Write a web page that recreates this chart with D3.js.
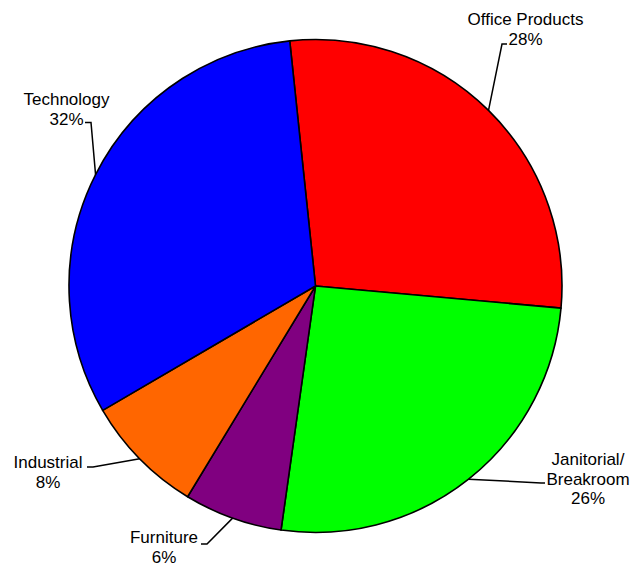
<!DOCTYPE html>
<html>
<head>
<meta charset="utf-8">
<script src="https://cdn.jsdelivr.net/npm/d3@7"></script>
<style>
  html, body { margin: 0; padding: 0; background: #fff; }
  svg { display: block; }
  text { font-family: "Liberation Sans", Arial, sans-serif; font-size: 17px; fill: #000; }
</style>
</head>
<body>
<svg id="chart" width="633" height="568"></svg>
<script>
// Data
const categories = ["Office Products", "Janitorial/Breakroom", "Furniture", "Industrial", "Technology"];
const values = [28.1, 25.8, 6.45, 7.9, 31.75];
const labelLines = [["Office Products", "28%"], ["Janitorial/", "Breakroom", "26%"], ["Furniture", "6%"], ["Industrial", "8%"], ["Technology", "32%"]];
const colors = ["#FF0000", "#00FF00", "#800080", "#FF6600", "#0000FF"];

// Layout (label placement)
const labelLayout = [
  { elbow: [502, 44], end: [507, 44], tx: 525.5, ty: 25, anchor: "middle" },
  { elbow: [541, 483], end: [545, 483], tx: 588, ty: 465, anchor: "middle" },
  { elbow: [207, 544], end: [201, 544], tx: 164, ty: 543, anchor: "middle" },
  { elbow: [93, 467], end: [87, 467], tx: 48, ty: 468, anchor: "middle" },
  { elbow: [91, 122.5], end: [85, 122.5], tx: 66.5, ty: 105, anchor: "middle" }
];

const cx = 315.5, cy = 286, r = 246.5;
const start = -6 * Math.PI / 180;

const svg = d3.select("#chart");
const g = svg.append("g").attr("transform", `translate(${cx},${cy})`);

const data = categories.map((c, i) => ({ category: c, value: values[i], i }));
const pie = d3.pie().value(d => d.value).sort(null).startAngle(start).endAngle(start + 2 * Math.PI);
const arcs = pie(data);
const arc = d3.arc().innerRadius(0).outerRadius(r);
const color = d3.scaleOrdinal().domain(categories).range(colors);

g.selectAll("path.slice").data(arcs).enter().append("path")
  .attr("class", "slice")
  .attr("d", arc)
  .attr("fill", d => color(d.data.category))
  .attr("stroke", "#000")
  .attr("stroke-width", 1.6)
  .attr("stroke-linejoin", "round");

// Leader lines
arcs.forEach((a, i) => {
  const mid = (a.startAngle + a.endAngle) / 2;
  const sx = cx + r * Math.sin(mid), sy = cy - r * Math.cos(mid);
  const L = labelLayout[i];
  svg.append("polyline")
    .attr("points", [[sx, sy], L.elbow, L.end].map(p => p.join(",")).join(" "))
    .attr("fill", "none").attr("stroke", "#000").attr("stroke-width", 1.5);
  const t = svg.append("text").attr("text-anchor", L.anchor);
  labelLines[i].forEach((line, k) => {
    t.append("tspan").attr("x", L.tx).attr("y", L.ty + k * 19.5).text(line);
  });
});
</script>
</body>
</html>
